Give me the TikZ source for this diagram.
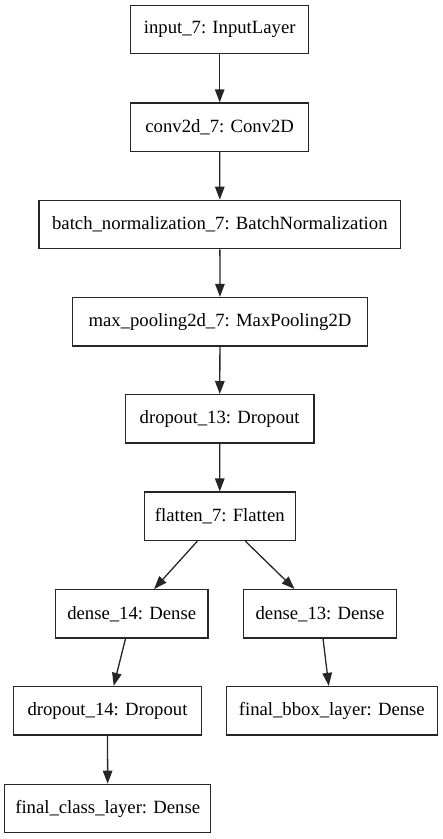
\documentclass[tikz,border=0pt]{standalone}
\usepackage{fontspec}
\setmainfont{Liberation Serif}
\usetikzlibrary{arrows.meta}
\tikzset{
  layer/.style={draw=black!85, line width=1.3pt, minimum height=48.4, inner sep=0pt,
    font=\fontsize{18.7}{22}\selectfont},
  flow/.style={draw=black!85, line width=1.3pt, -{Triangle[length=13pt,width=9.5pt]}}
}
\begin{document}
\begin{tikzpicture}[x=1pt,y=-1pt]
\useasboundingbox (0,0) rectangle (443,839);
% main column
\node[layer, minimum width=178] (input) at (219.7,29.5) {input\_7: InputLayer};
\node[layer, minimum width=178] (conv) at (219.7,127.2) {conv2d\_7: Conv2D};
\node[layer, minimum width=361.7] (batchnorm) at (219.85,224.5) {batch\_normalization\_7: BatchNormalization};
\node[layer, minimum width=294.6] (maxpool) at (220,321.7) {max\_pooling2d\_7: MaxPooling2D};
\node[layer, minimum width=188.7] (dropoutA) at (219.7,418.85) {dropout\_13: Dropout};
\node[layer, minimum width=151] (flatten) at (219.8,516.3) {flatten\_7: Flatten};
% two heads
\node[layer, minimum width=152.7] (denseB) at (131.7,613.85) {dense\_14: Dense};
\node[layer, minimum width=152.6] (denseA) at (320,613.85) {dense\_13: Dense};
\node[layer, minimum width=188.4] (dropoutB) at (107.5,710.7) {dropout\_14: Dropout};
\node[layer, minimum width=211] (bbox) at (331.8,710.7) {final\_bbox\_layer: Dense};
\node[layer, minimum width=206] (class) at (107.7,808.5) {final\_class\_layer: Dense};
% connections
\draw[flow] (input) -- (conv);
\draw[flow] (conv) -- (batchnorm);
\draw[flow] (batchnorm) -- (maxpool);
\draw[flow] (maxpool) -- (dropoutA);
\draw[flow] (dropoutA) -- (flatten);
\draw[flow] (flatten) -- (denseB);
\draw[flow] (flatten) -- (denseA);
\draw[flow] (denseB) -- (dropoutB);
\draw[flow] (denseA) -- (bbox);
\draw[flow] (dropoutB) -- (class);
\end{tikzpicture}
\end{document}
